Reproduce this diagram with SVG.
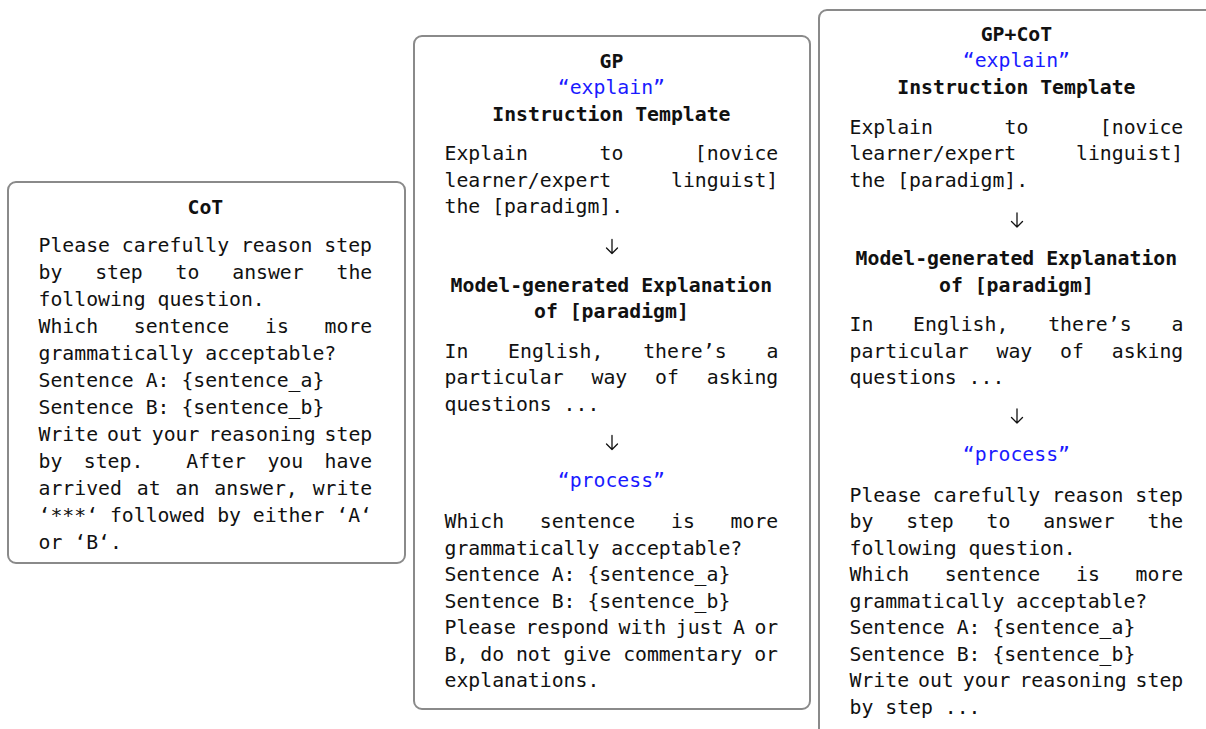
<svg xmlns="http://www.w3.org/2000/svg" width="1206" height="729" viewBox="0 0 1206 729">
<style>
.box{fill:#fff;stroke:#8a8a8a;stroke-width:2}
text{font-family:"DejaVu Sans Mono","Liberation Mono",monospace;font-size:19.8px;fill:#111}
.h{font-weight:bold;text-anchor:middle}
.q{fill:#1a1aff;text-anchor:middle}
.arr{fill:none;stroke:#111;stroke-width:1.3;stroke-linecap:round;stroke-linejoin:round}
</style>
<rect width="1206" height="729" fill="#fff"/>
<g id="cot">
<rect class="box" x="8" y="182" width="397" height="381" rx="8"/>
<text class="h" x="205.4" y="214">CoT</text>
<text x="38.5" y="252">Please carefully reason step</text>
<text y="279"><tspan x="38.5">by</tspan><tspan x="95.13">step</tspan><tspan x="175.6">to</tspan><tspan x="232.23">answer</tspan><tspan x="336.54">the</tspan></text>
<text x="38.5" y="306">following question.</text>
<text y="333"><tspan x="38.5">Which</tspan><tspan x="133.87">sentence</tspan><tspan x="265">is</tspan><tspan x="324.61">more</tspan></text>
<text x="38.5" y="360">grammatically acceptable?</text>
<text x="38.5" y="387">Sentence A: {sentence_a}</text>
<text x="38.5" y="414">Sentence B: {sentence_b}</text>
<text y="441"><tspan x="38.5">Write</tspan><tspan x="107.05">out</tspan><tspan x="151.76">your</tspan><tspan x="208.39">reasoning</tspan><tspan x="324.62">step</tspan></text>
<text y="468"><tspan x="38.5">by</tspan><tspan x="83.8">step.</tspan><tspan x="186.33">After</tspan><tspan x="267.39">you</tspan><tspan x="324.61">have</tspan></text>
<text y="495"><tspan x="38.5">arrived</tspan><tspan x="136.85">at</tspan><tspan x="175.6">an</tspan><tspan x="214.35">answer,</tspan><tspan x="312.7">write</tspan></text>
<text x="38.5" y="522">‘***‘ followed by either ‘A‘</text>
<text x="38.5" y="549">or ‘B‘.</text>
</g>
<g id="gp">
<rect class="box" x="414" y="36" width="396" height="673" rx="8"/>
<text class="h" x="611.4" y="67.5">GP</text>
<text class="q" x="611.4" y="93.5">“explain”</text>
<text class="h" x="611.4" y="120.5">Instruction Template</text>
<text y="160"><tspan x="444.5">Explain</tspan><tspan x="599.48">to</tspan><tspan x="694.86">[novice</tspan></text>
<text y="186.5"><tspan x="444.5">learner/expert</tspan><tspan x="671.02">linguist]</tspan></text>
<text x="444.5" y="213">the [paradigm].</text>
<text class="h" x="611.4" y="291.5">Model-generated Explanation</text>
<text class="h" x="611.4" y="318">of [paradigm]</text>
<text y="357.5"><tspan x="444.5">In</tspan><tspan x="508.09">English,</tspan><tspan x="643.2">there’s</tspan><tspan x="766.39">a</tspan></text>
<text y="384"><tspan x="444.5">particular</tspan><tspan x="591.53">way</tspan><tspan x="655.12">of</tspan><tspan x="706.79">asking</tspan></text>
<text x="444.5" y="410.5">questions ...</text>
<text class="q" x="611.4" y="487">“process”</text>
<text y="528"><tspan x="444.5">Which</tspan><tspan x="539.87">sentence</tspan><tspan x="671">is</tspan><tspan x="730.61">more</tspan></text>
<text x="444.5" y="554.5">grammatically acceptable?</text>
<text x="444.5" y="581">Sentence A: {sentence_a}</text>
<text x="444.5" y="607.5">Sentence B: {sentence_b}</text>
<text y="634"><tspan x="444.5">Please</tspan><tspan x="525.56">respond</tspan><tspan x="618.55">with</tspan><tspan x="675.77">just</tspan><tspan x="732.99">A</tspan><tspan x="754.46">or</tspan></text>
<text x="444.5" y="660.5">B, do not give commentary or</text>
<text x="444.5" y="687">explanations.</text>
</g>
<g id="gpcot">
<rect class="box" x="819" y="10" width="396" height="740" rx="8"/>
<text class="h" x="1016.4" y="41">GP+CoT</text>
<text class="q" x="1016.4" y="67">“explain”</text>
<text class="h" x="1016.4" y="94">Instruction Template</text>
<text y="133.5"><tspan x="849.5">Explain</tspan><tspan x="1004.48">to</tspan><tspan x="1099.86">[novice</tspan></text>
<text y="160"><tspan x="849.5">learner/expert</tspan><tspan x="1076.02">linguist]</tspan></text>
<text x="849.5" y="186.5">the [paradigm].</text>
<text class="h" x="1016.4" y="265">Model-generated Explanation</text>
<text class="h" x="1016.4" y="291.5">of [paradigm]</text>
<text y="331"><tspan x="849.5">In</tspan><tspan x="913.09">English,</tspan><tspan x="1048.2">there’s</tspan><tspan x="1171.39">a</tspan></text>
<text y="357.5"><tspan x="849.5">particular</tspan><tspan x="996.53">way</tspan><tspan x="1060.12">of</tspan><tspan x="1111.79">asking</tspan></text>
<text x="849.5" y="384">questions ...</text>
<text class="q" x="1016.4" y="460.5">“process”</text>
<text x="849.5" y="501.5">Please carefully reason step</text>
<text y="528"><tspan x="849.5">by</tspan><tspan x="906.13">step</tspan><tspan x="986.6">to</tspan><tspan x="1043.23">answer</tspan><tspan x="1147.54">the</tspan></text>
<text x="849.5" y="554.5">following question.</text>
<text y="581"><tspan x="849.5">Which</tspan><tspan x="944.87">sentence</tspan><tspan x="1076">is</tspan><tspan x="1135.61">more</tspan></text>
<text x="849.5" y="607.5">grammatically acceptable?</text>
<text x="849.5" y="634">Sentence A: {sentence_a}</text>
<text x="849.5" y="660.5">Sentence B: {sentence_b}</text>
<text y="687"><tspan x="849.5">Write</tspan><tspan x="918.05">out</tspan><tspan x="962.76">your</tspan><tspan x="1019.39">reasoning</tspan><tspan x="1135.62">step</tspan></text>
<text x="849.5" y="713.5">by step ...</text>
</g>
<g id="connectors">
<path class="arr" d="M612 239.5V253.5M606.5 248L612 253.5L617.5 248"/>
<path class="arr" d="M612 435.5V449.5M606.5 444L612 449.5L617.5 444"/>
<path class="arr" d="M1017 213V227M1011.5 221.5L1017 227L1022.5 221.5"/>
<path class="arr" d="M1017 409V423M1011.5 417.5L1017 423L1022.5 417.5"/>
</g>
</svg>
